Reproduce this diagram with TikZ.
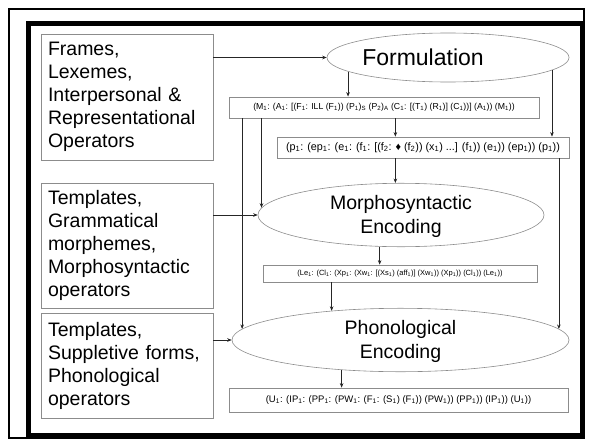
\documentclass[tikz,border=0pt]{standalone}
\usepackage{fontspec}
\setmainfont{Liberation Sans}
\usetikzlibrary{arrows.meta,shapes.geometric}
\definecolor{edgegray}{RGB}{140,140,140}
\newcommand\ix[1]{\textsubscript{#1}}
\begin{document}
\begin{tikzpicture}[x=1pt,y=-1pt,
  srcbox/.style={draw=edgegray, line width=0.8pt, rectangle, inner xsep=7pt, inner ysep=0pt,
    text width=158pt, align=left, minimum width=172pt,
    font=\fontsize{19.5}{23}\selectfont},
  stage/.style={draw=edgegray, line width=0.6pt, ellipse, inner sep=0pt, align=center,
    font=\fontsize{19.5}{24}\selectfont},
  formbox/.style={draw=edgegray, line width=0.8pt, rectangle, inner sep=0pt},
  conn/.style={draw=black!85, line width=0.6pt, -{Stealth[length=4.5pt,width=3.6pt]}}]
\useasboundingbox (0,0) rectangle (591,444);

% frames
\draw[line width=1.5pt] (9,9) rectangle (584,438);
\draw[line width=5pt] (28,24) rectangle (582,435);

% input boxes
\node[srcbox, minimum height=126pt] (b1) at (127,97)
  {Frames,\\Lexemes,\\Interpersonal \&\\Representational\\Operators};
\node[srcbox, minimum height=125pt] (b2) at (127,245.5)
  {Templates,\\Grammatical\\morphemes,\\Morphosyntactic\\operators};
\node[srcbox, minimum height=105pt] (b3) at (127,365.5)
  {Templates,\\Suppletive forms,\\Phonological\\operators};

% processing stages
\node[stage, minimum width=242pt, minimum height=49pt, font=\fontsize{23}{26}\selectfont] (form) at (448,57.5)
  {\hspace*{-50pt}Formulation};
\node[stage, minimum width=286pt, minimum height=58pt] (morph) at (401,215) {\strut Morphosyntactic\\Encoding};
\node[stage, minimum width=337pt, minimum height=52pt] (phon) at (400.5,340) {\strut Phonological\\Encoding};

% representations
\node[formbox, minimum width=310pt, minimum height=21pt, font=\fontsize{8.7}{10}\selectfont] (mbox) at (384,107.5)
  {(M\ix1: (A\ix1: [(F\ix1: ILL (F\ix1)) (P\ix1)\ix{S} (P\ix2)\ix{A} (C\ix1: [(T\ix1) (R\ix1)] (C\ix1))] (A\ix1)) (M\ix1))};
\node[formbox, minimum width=292pt, minimum height=21pt, font=\fontsize{10.8}{12}\selectfont] (pbox) at (423,147.5)
  {(p\ix1: (ep\ix1: (e\ix1: (f\ix1: [(f\ix2: ♦ (f\ix2)) (x\ix1) ...] (f\ix1)) (e\ix1)) (ep\ix1)) (p\ix1))};
\node[formbox, minimum width=274pt, minimum height=17pt, font=\fontsize{7.5}{9}\selectfont] (lebox) at (400,273.5)
  {(Le\ix1: (Cl\ix1: (Xp\ix1: (Xw\ix1: [(Xs\ix1) (aff\ix1)] (Xw\ix1)) (Xp\ix1)) (Cl\ix1)) (Le\ix1))};
\node[formbox, minimum width=339pt, minimum height=24pt, font=\fontsize{9.5}{11}\selectfont] (ubox) at (398.5,400)
  {(U\ix1: (IP\ix1: (PP\ix1: (PW\ix1: (F\ix1: (S\ix1) (F\ix1)) (PW\ix1)) (PP\ix1)) (IP\ix1)) (U\ix1))};

% connectors
\draw[conn] (b1.east |- form.west) -- (form.west);
\draw[conn] (form.188) -- (form.188 |- mbox.north);
\draw[conn] (form.353) -- (form.353 |- pbox.north);
\draw[conn] (mbox.south -| morph.100) -- (pbox.north -| morph.100);
\draw[conn] (mbox.south -| morph.177) -- (morph.177);
\draw[conn] (mbox.south -| phon.176.5) -- (phon.176.5);
\draw[conn] (pbox.south -| morph.100) -- (morph.100);
\draw[conn] (pbox.south -| phon.4) -- (phon.4);
\draw[conn] (b2.east |- morph.west) -- (morph.west);
\draw[conn] (morph.236.5) -- (morph.236.5 |- lebox.north);
\draw[conn] (lebox.south -| phon.157.4) -- (phon.157.4);
\draw[conn] (b3.east |- phon.west) -- (phon.west);
\draw[conn] (phon.207) -- (phon.207 |- ubox.north);
\end{tikzpicture}
\end{document}
